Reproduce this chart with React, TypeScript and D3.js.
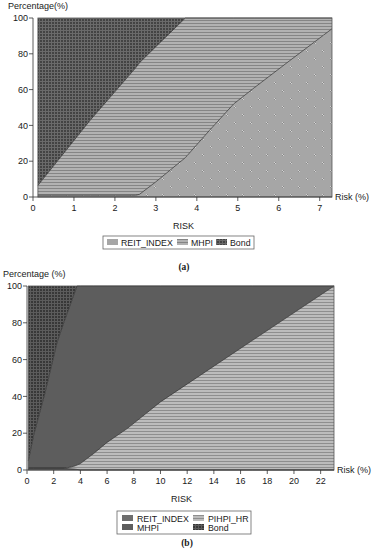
import React from 'react';
import * as d3 from 'd3';

// chart (a)
const riskA = [0.12, 1.4, 2.5, 2.6, 3.0, 3.72, 4.3, 4.9, 5.4, 6.2, 7.3];
const reitA = [1, 1, 1, 1.5, 8.5, 22, 37, 52, 61, 75, 94];
const mhpiA = [5.5, 42, 71, 73.5, 75.5, 78, 63, 48, 39, 25, 6];
const bondA = [93.5, 57, 28, 25, 16, 0, 0, 0, 0, 0, 0];
const xTicksA = [0, 1, 2, 3, 4, 5, 6, 7];

// chart (b)
const riskB = [0.1, 0.5, 1.35, 2.24, 2.8, 3.0, 3.5, 3.75, 4.0, 5.0, 6.0, 7.5, 10, 16.9, 23];
const reitB = [1, 1, 1, 1, 1, 0.8, 0.5, 0.3, 0, 0, 0, 0, 0, 0, 0];
const pihpiB = [0, 0, 0, 0, 0, 0.4, 1.5, 2.4, 3.5, 9, 15, 22.5, 37, 70.5, 100];
const mhpiB = [4, 18, 41, 68, 80, 83.8, 93, 97.3, 96.5, 91, 85, 77.5, 63, 29.5, 0];
const bondB = [95, 81, 58, 31, 19, 15, 5, 0, 0, 0, 0, 0, 0, 0, 0];
const xTicksB = [0, 2, 4, 6, 8, 10, 12, 14, 16, 18, 20, 22];

const yTicks = [0, 20, 40, 60, 80, 100];
const font = "'Liberation Sans', Arial, sans-serif";

type Series = { key: string; values: number[]; fill: string; legend: string };

function Patterns() {
	return (
		<defs>
			<pattern id="dotsA" width="16" height="16" patternUnits="userSpaceOnUse">
				<rect width="16" height="16" fill="#a6a6a6" />
				<rect x="2" y="2" width="1" height="1" fill="#d0d0d0" />
				<rect x="3" y="3" width="1" height="1" fill="#d0d0d0" />
				<rect x="3" y="2" width="1" height="1" fill="#8a8a8a" />
				<rect x="2" y="3" width="1" height="1" fill="#8a8a8a" />
				<rect x="10" y="10" width="1" height="1" fill="#d0d0d0" />
				<rect x="11" y="11" width="1" height="1" fill="#d0d0d0" />
				<rect x="11" y="10" width="1" height="1" fill="#8a8a8a" />
				<rect x="10" y="11" width="1" height="1" fill="#8a8a8a" />
			</pattern>
			<pattern id="linesA" width="4" height="3" patternUnits="userSpaceOnUse">
				<rect width="4" height="3" fill="#b2b2b2" />
				<rect y="2" width="4" height="1" fill="#858585" />
			</pattern>
			<pattern id="hatchA" width="3" height="3" patternUnits="userSpaceOnUse">
				<rect width="3" height="3" fill="#434343" />
				<rect width="1" height="3" fill="#6a6a6a" />
				<rect width="3" height="1" fill="#6a6a6a" />
			</pattern>
			<pattern id="linesB" width="4" height="3" patternUnits="userSpaceOnUse">
				<rect width="4" height="3" fill="#bcbcbc" />
				<rect y="2" width="4" height="1" fill="#8e8e8e" />
			</pattern>
			<pattern id="hatchB" width="3" height="3" patternUnits="userSpaceOnUse">
				<rect width="3" height="3" fill="#383838" />
				<rect width="1" height="3" fill="#5c5c5c" />
				<rect width="3" height="1" fill="#5c5c5c" />
			</pattern>
		</defs>
	);
}

function StackChart(props: {
	risk: number[]; series: Series[]; xTicks: number[]; xMax: number;
	x0: number; x1: number; yTop: number; yBot: number; yTitle: string; titleX: number;
}) {
	const { risk, series, xTicks, xMax, x0, x1, yTop, yBot } = props;
	const x = d3.scaleLinear().domain([0, xMax]).range([x0, x1]);
	const y = d3.scaleLinear().domain([0, 100]).range([yBot, yTop]);
	const rows = risk.map((r, i) => {
		const o: any = { risk: r };
		series.forEach((s) => (o[s.key] = s.values[i]));
		return o;
	});
	const stacked = d3.stack().keys(series.map((s) => s.key))(rows);
	const area = d3.area<any>()
		.x((d) => x(d.data.risk))
		.y0((d) => y(d[0]))
		.y1((d) => y(d[1]));
	const line = d3.line<any>().x((d) => x(d.data.risk)).y((d) => y(d[1]));
	const left = x(risk[0]);
	return (
		<g fontFamily={font} fontSize={9} fill="#1a1a1a">
			{stacked.map((layer, i) => (
				<path key={layer.key} d={area(layer) || ''} fill={series[i].fill} />
			))}
			{stacked.slice(0, -1).map((layer) => (
				<path key={'l' + layer.key} d={line(layer) || ''} fill="none" stroke="#2a2a2a" strokeWidth={0.7} />
			))}
			<rect x={left} y={yTop} width={x1 - left} height={yBot - yTop} fill="none" stroke="#555" strokeWidth={0.8} />
			<line x1={x0} x2={x0} y1={yTop} y2={yBot} stroke="#333" strokeWidth={0.8} />
			<line x1={x0} x2={x1} y1={yBot} y2={yBot} stroke="#333" strokeWidth={0.8} />
			{yTicks.map((t) => (
				<g key={'y' + t}>
					<line x1={x0 - 4} x2={x0} y1={y(t)} y2={y(t)} stroke="#333" strokeWidth={0.8} />
					<text x={x0 - 5} y={y(t) + 3.2} textAnchor="end">{t}</text>
				</g>
			))}
			{xTicks.map((t) => (
				<g key={'x' + t}>
					<line x1={x(t)} x2={x(t)} y1={yBot} y2={yBot + 4} stroke="#333" strokeWidth={0.8} />
					<text x={x(t)} y={yBot + 13.5} textAnchor="middle">{t}</text>
				</g>
			))}
			<text x={props.titleX} y={yTop - 9}>{props.yTitle}</text>
			<text x={x1 + 3} y={yBot + 3.2}>Risk (%)</text>
			<text x={(x0 + x1) / 2 + 1} y={yBot + 32} textAnchor="middle">RISK</text>
		</g>
	);
}

export default function App() {
	const seriesA: Series[] = [
		{ key: 'REIT_INDEX', values: reitA, fill: 'url(#dotsA)', legend: '#a6a6a6' },
		{ key: 'MHPI', values: mhpiA, fill: 'url(#linesA)', legend: 'url(#linesA)' },
		{ key: 'Bond', values: bondA, fill: 'url(#hatchA)', legend: 'url(#hatchA)' },
	];
	const seriesB: Series[] = [
		{ key: 'REIT_INDEX', values: reitB, fill: '#6e6e6e', legend: '#6e6e6e' },
		{ key: 'PIHPI_HR', values: pihpiB, fill: 'url(#linesB)', legend: 'url(#linesB)' },
		{ key: 'MHPI', values: mhpiB, fill: '#5d5d5d', legend: '#5d5d5d' },
		{ key: 'Bond', values: bondB, fill: 'url(#hatchB)', legend: 'url(#hatchB)' },
	];
	const legA = [{ s: seriesA[0], x: 107 }, { s: seriesA[1], x: 177 }, { s: seriesA[2], x: 216 }];
	const legB = [
		{ s: seriesB[0], x: 122, y: 515 }, { s: seriesB[1], x: 193, y: 515 },
		{ s: seriesB[2], x: 122, y: 524 }, { s: seriesB[3], x: 193, y: 524 },
	];
	return (
		<svg width={374} height={550} style={{ position: 'absolute', left: 0, top: 0, background: '#fff' }}>
			<Patterns />
			<StackChart risk={riskA} series={seriesA} xTicks={xTicksA} xMax={7.3}
				x0={33} x1={332} yTop={18} yBot={197} yTitle="Percentage(%)" titleX={8} />
			<StackChart risk={riskB} series={seriesB} xTicks={xTicksB} xMax={23}
				x0={27} x1={334} yTop={286} yBot={470} yTitle="Percentage (%)" titleX={3} />
			<g fontFamily={font} fontSize={8.8} fill="#1a1a1a">
				<rect x={103} y={236} width={151} height={13} fill="#fff" stroke="#666" strokeWidth={0.8} />
				{legA.map((l) => (
					<g key={'a' + l.s.key}>
						<rect x={l.x} y={239} width={11} height={6} fill={l.s.legend} />
						<text x={l.x + 14} y={245.5}>{l.s.key}</text>
					</g>
				))}
				<text x={184} y={270} textAnchor="middle" fontFamily="'Liberation Serif', serif" fontWeight="bold" fontSize={9.5}>(a)</text>
				<rect x={117} y={511} width={134} height={23} fill="#fff" stroke="#666" strokeWidth={0.8} />
				{legB.map((l) => (
					<g key={'b' + l.s.key}>
						<rect x={l.x} y={l.y} width={11} height={6} fill={l.s.legend} />
						<text x={l.x + 15} y={l.y + 6.5}>{l.s.key}</text>
					</g>
				))}
				<text x={187} y={546} textAnchor="middle" fontFamily="'Liberation Serif', serif" fontWeight="bold" fontSize={9.5}>(b)</text>
			</g>
		</svg>
	);
}
